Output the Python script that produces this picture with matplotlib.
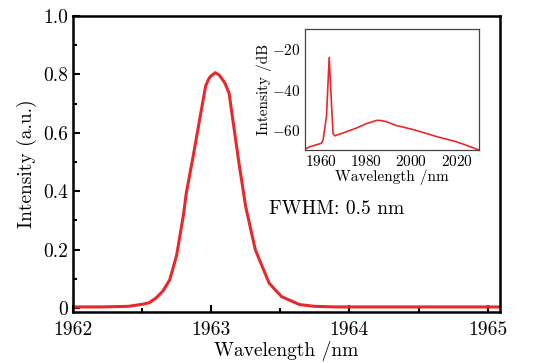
import matplotlib.pyplot as plt
from matplotlib.ticker import MultipleLocator

plt.rcParams['font.family'] = ['cmr10', 'DejaVu Serif']
plt.rcParams['mathtext.fontset'] = 'cm'
plt.rcParams['axes.formatter.use_mathtext'] = True

red = '#e8282a'

# main spectrum (linear)
wl = [1962.0, 1962.2, 1962.4, 1962.5, 1962.55, 1962.6, 1962.65, 1962.7,
      1962.75, 1962.8, 1962.82, 1962.865, 1962.925, 1962.96, 1962.985,
      1963.0, 1963.03, 1963.06, 1963.1, 1963.13, 1963.2, 1963.25, 1963.32,
      1963.42, 1963.51, 1963.64, 1963.75, 1963.9, 1964.5, 1965.09]
inten = [0.004, 0.004, 0.006, 0.013, 0.018, 0.034, 0.058, 0.096,
         0.18, 0.32, 0.393, 0.507, 0.667, 0.76, 0.787,
         0.795, 0.806, 0.797, 0.77, 0.735, 0.50, 0.347, 0.199,
         0.085, 0.039, 0.012, 0.006, 0.004, 0.004, 0.004]

# inset spectrum (dB)
wl_db = [1953.0, 1955.2, 1960.3, 1961.0, 1962.5, 1963.7, 1964.7, 1965.4,
         1966.1, 1970.0, 1975.6, 1980.0, 1984.4, 1986.0, 1988.8, 1993.2,
         2000.5, 2006.3, 2012.2, 2019.5, 2023.9, 2029.8]
inten_db = [-69.6, -68.4, -66.7, -65.0, -53.5, -24.0, -46.6, -61.7,
            -63.0, -61.5, -59.2, -57.0, -55.4, -55.3, -55.9, -57.8,
            -59.8, -61.7, -63.7, -65.8, -67.5, -70.0]

fig = plt.figure(figsize=(5.36, 3.63), dpi=100)
ax = fig.add_axes([0.136, 0.141, 0.797, 0.815])
ax.plot(wl, inten, color=red, lw=2.2)
ax.set_xlim(1962, 1965.09)
ax.set_ylim(-0.0127, 1.0)
ax.set_xticks([1962, 1963, 1964, 1965])
ax.set_xticklabels(['1962', '1963', '1964', '1965'])
ax.set_yticks([0, 0.2, 0.4, 0.6, 0.8, 1.0])
ax.set_yticklabels(['0', '0.2', '0.4', '0.6', '0.8', '1.0'])
ax.xaxis.set_minor_locator(MultipleLocator(0.5))
ax.yaxis.set_minor_locator(MultipleLocator(0.1))
ax.tick_params(which='both', direction='in', top=False, right=False,
               labelsize=14, width=1.5)
ax.tick_params(axis='x', pad=7)
ax.tick_params(which='major', length=5)
ax.tick_params(which='minor', length=3)
for s in ax.spines.values():
    s.set_linewidth(1.8)
ax.set_xlabel('Wavelength /nm', fontsize=14, labelpad=1)
ax.set_ylabel('Intensity (a.u.)', fontsize=14, labelpad=4)
ax.text(1963.42, 0.34, 'FWHM: 0.5 nm', fontsize=14, va='center')

ins = fig.add_axes([0.569, 0.587, 0.325, 0.3325])
ins.plot(wl_db, inten_db, color=red, lw=1.2)
ins.set_xlim(1953, 2030)
ins.set_ylim(-70, -10)
ins.set_xticks([1960, 1980, 2000, 2020])
ins.set_yticks([-20, -40, -60])
ins.tick_params(length=0, labelsize=11, pad=3)
for s in ins.spines.values():
    s.set_linewidth(0.9)
    s.set_color('#444444')
ins.set_xlabel('Wavelength /nm', fontsize=11, labelpad=0)
ins.set_ylabel('Intensity /dB', fontsize=11, labelpad=0)

fig.savefig('out.png', dpi=100)
